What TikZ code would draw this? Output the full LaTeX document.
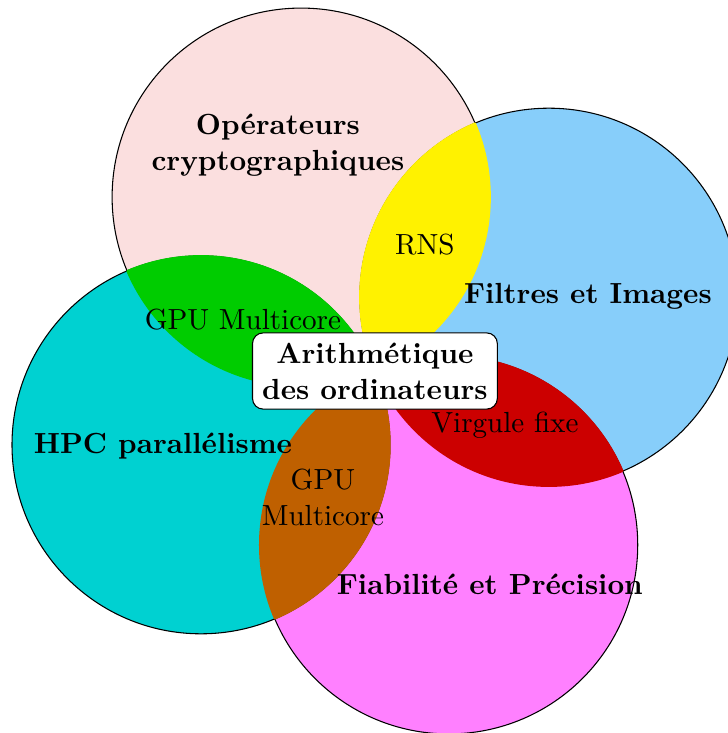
\documentclass[11pt,tikz,border=0pt]{standalone}
\usepackage{amsmath}
\usepackage{amssymb}
\usepackage{tikz}
\usetikzlibrary{positioning}

\definecolor{rose}{RGB}{251,223,223}
\definecolor{ciel}{RGB}{135,206,250}
\definecolor{turquoise}{RGB}{0,209,209}
\definecolor{violet}{RGB}{255,128,255}
\definecolor{vert}{RGB}{0,204,0}
\definecolor{rouge}{RGB}{204,0,0}
\definecolor{brun}{RGB}{191,96,0}

\begin{document}
\begin{tikzpicture}
	\useasboundingbox (-4.960,-4.789) rectangle (4.670,4.908);
	\tikzset{domaine/.style={font=\bfseries,align=center}}
	\tikzset{outil/.style={align=center}}
	% centres des quatre cercles
	\coordinate (T) at (113:2.5);
	\coordinate (R) at (23:2.5);
	\coordinate (B) at (-67:2.5);
	\coordinate (L) at (203:2.5);
	\draw[fill=rose]      (T) circle (2.5);
	\draw[fill=ciel]      (R) circle (2.5);
	\draw[fill=violet]    (B) circle (2.5);
	\draw[fill=turquoise] (L) circle (2.5);
	% intersections
	\foreach \a/\b/\c in {T/R/yellow, T/L/vert, R/B/rouge, L/B/brun}{
		\begin{scope}
			\clip (\a) circle (2.5);
			\filldraw[\c, line width=0.6pt] (\b) circle (2.5);
		\end{scope}
		\begin{scope}
			\clip (\b) circle (2.5);
			\draw[\c, line width=0.6pt] (\a) circle (2.5);
		\end{scope}
	}
	\node[domaine] (crypto) at (-1.283,2.990) {Opérateurs\\cryptographiques};
	\node[domaine] (filtres) at (2.818,0.992) {Filtres et Images};
	\node[domaine] (hpc) at (-2.804,-0.992) {HPC parallélisme};
	\node[domaine] (fiab) at (1.521,-2.818) {Fiabilité et Précision};
	\node[outil] (rns) at (0.661,1.667) {RNS};
	\node[outil] (gpu) at (-1.746,0.675) {GPU Multicore};
	\node[outil] (virgule) at (1.720,-0.714) {Virgule fixe};
	\node[outil] (gpubis) at (-0.688,-1.667) {GPU\\Multicore};
	\node[draw, fill=white, rounded corners, domaine] (arith) at (0,0) {Arithmétique\\des ordinateurs};
\end{tikzpicture}
\end{document}
